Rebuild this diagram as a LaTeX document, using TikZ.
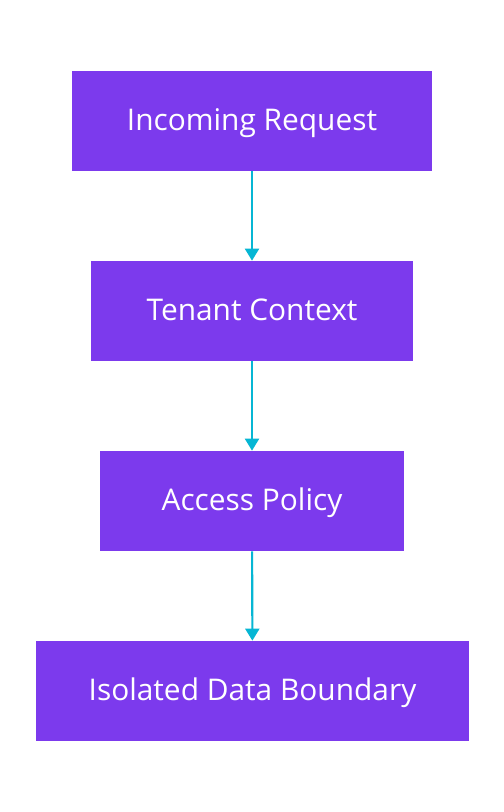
\documentclass[tikz,border=0pt]{standalone}
\usepackage{fontspec}
\setmainfont{Open Sans}
\usetikzlibrary{arrows.meta}
\definecolor{boxpurple}{HTML}{7C3AED}
\definecolor{linkcyan}{HTML}{06B6D4}
\tikzset{
  flow box/.style={
    fill=boxpurple,
    draw=none,
    text=white,
    minimum height=2cm,
    inner sep=0pt,
    text height=12.2pt,
    text depth=1.7pt,
    font=\fontsize{17}{20}\selectfont,
  },
  flow link/.style={
    draw=linkcyan,
    line width=1.2pt,
    -{Triangle[length=0.24cm,width=0.28cm]},
  }
}

\begin{document}
\begin{tikzpicture}[x=0.02cm,y=-0.02cm]
\useasboundingbox[fill=white] (0,0) rectangle (504,812);

\node[flow box, minimum width=7.2cm] (request) at (252,121) {Incoming Request};
\node[flow box, minimum width=6.44cm] (tenant) at (252,311) {Tenant Context};
\node[flow box, minimum width=6.08cm] (policy) at (252,501) {Access Policy};
\node[flow box, minimum width=8.66cm] (boundary) at (252.5,691) {Isolated Data Boundary};

\draw[flow link] (request) -- (tenant);
\draw[flow link] (tenant) -- (policy);
\draw[flow link] (policy) -- (boundary);

\end{tikzpicture}
\end{document}
